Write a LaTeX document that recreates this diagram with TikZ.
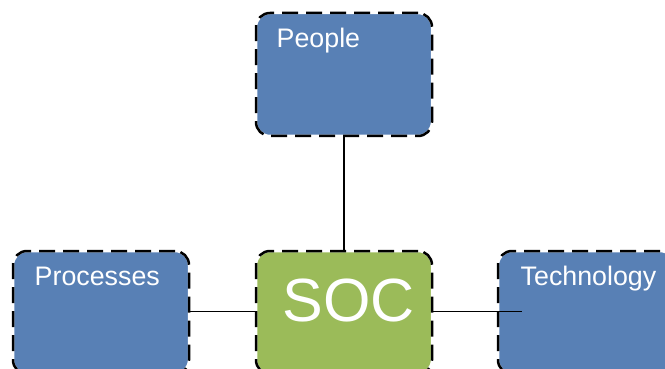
\documentclass[tikz,border=0pt]{standalone}
\usepackage{fontspec}
\setmainfont{Liberation Sans}
\definecolor{boxblue}{RGB}{88,128,181}
\definecolor{boxgreen}{RGB}{155,187,89}
\tikzset{
  area/.style={rectangle, rounded corners=14pt, minimum width=176pt, minimum height=123pt,
    inner sep=0pt, draw=white, line width=2.5pt,
    postaction={draw=black, line width=2.5pt, dash pattern=on 16pt off 8pt}},
  bluearea/.style={area, fill=boxblue},
  greenarea/.style={area, fill=boxgreen},
  caption/.style={anchor=base west, inner sep=0pt, text=white, font=\fontsize{26.8}{31}\selectfont},
  link/.style={draw=black, line width=1.5pt}
}
\begin{document}
\begin{tikzpicture}[x=1pt, y=-1pt]
  \useasboundingbox (0,0) rectangle (665,369);
  \clip (0,0) rectangle (665,369);

  % the four areas
  \node[bluearea]  (people)     at (344,74.5)  {};
  \node[bluearea]  (processes)  at (101,312.5) {};
  \node[greenarea] (soc)        at (344,312.5) {};
  \node[bluearea]  (technology) at (586,312.5) {};

  % captions
  \node[caption] (tpeople)     at (276.5,47.5) {People};
  \node[caption] (tprocesses)  at (34.5,285)   {Processes};
  \node[caption] (ttechnology) at (520.5,285)  {Technology};
  \node[anchor=base, inner sep=0pt, text=white, font=\fontsize{61}{70}\selectfont]
    (tsoc) at (348.5,321) {SOC};

  % connectors
  \coordinate (techend) at (522,311.5);
  \draw[link] (people) -- (soc);
  \draw[link] (processes.east |- techend) -- (soc.west |- techend);
  \draw[link] (soc.east |- techend) -- (techend);
\end{tikzpicture}
\end{document}
